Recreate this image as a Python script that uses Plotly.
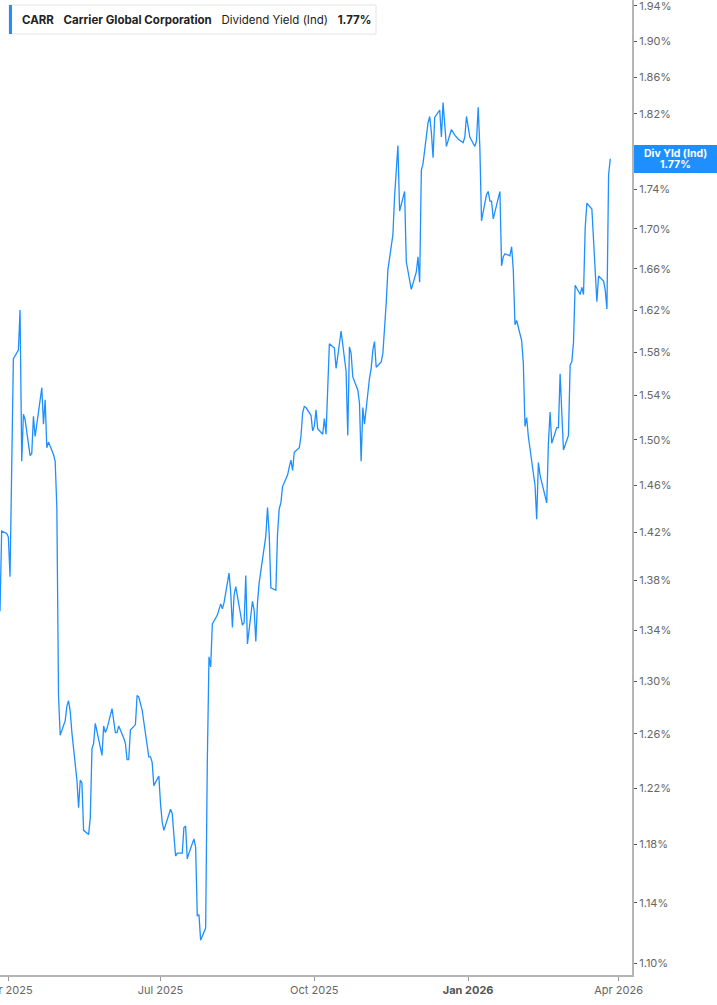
import numpy as np
import pandas as pd
import plotly.graph_objects as go

# CARR dividend yield (ind), %, one value per trading day
yld_apr = [1.355, 1.421, 1.419, 1.416, 1.383, 1.482, 1.574, 1.582, 1.620, 1.481,
           1.523, 1.518, 1.486, 1.488, 1.521, 1.503, 1.547, 1.514, 1.536, 1.493,
           1.498, 1.487, 1.481, 1.441]
yld_may_jul = [1.289, 1.259, 1.270, 1.281, 1.285, 1.277, 1.261, 1.226, 1.206, 1.226,
               1.224, 1.190, 1.187, 1.199, 1.249, 1.253, 1.268, 1.244, 1.266, 1.261,
               1.264, 1.279, 1.270, 1.261, 1.261, 1.266, 1.257, 1.253, 1.241, 1.241,
               1.263, 1.267, 1.289, 1.288, 1.278, 1.253, 1.243, 1.243, 1.239, 1.222,
               1.229, 1.209, 1.196, 1.190, 1.205, 1.202, 1.185, 1.172, 1.174, 1.174,
               1.192, 1.193, 1.170, 1.174, 1.184, 1.178, 1.131, 1.132, 1.115, 1.123,
               1.240, 1.319]
yld_aug_oct = [1.311, 1.345, 1.352, 1.356, 1.361, 1.357, 1.362, 1.386, 1.370, 1.342,
               1.368, 1.375, 1.354, 1.344, 1.346, 1.384, 1.329, 1.363, 1.356, 1.331,
               1.362, 1.378, 1.417, 1.441, 1.419, 1.374, 1.372, 1.419, 1.440, 1.445,
               1.459, 1.469, 1.476, 1.482, 1.473, 1.489, 1.493, 1.503, 1.524, 1.530,
               1.529, 1.522, 1.508, 1.512, 1.527, 1.510, 1.505, 1.519, 1.505]
yld_oct_nov = [1.547, 1.588, 1.584, 1.565, 1.576, 1.588, 1.600, 1.562, 1.504, 1.585,
               1.579, 1.557, 1.545, 1.533, 1.481,
               1.529, 1.514, 1.556, 1.565, 1.582, 1.590, 1.566, 1.571, 1.579, 1.601,
               1.627, 1.659, 1.694, 1.733, 1.760, 1.786]
yld_dec_jan = [1.718, 1.738, 1.667, 1.657, 1.640, 1.657, 1.672, 1.647, 1.760, 1.767,
               1.810, 1.817, 1.800, 1.773, 1.816, 1.824, 1.795, 1.832, 1.802, 1.785,
               1.803, 1.800, 1.797, 1.793, 1.789, 1.795, 1.817, 1.795, 1.785, 1.791,
               1.827, 1.784]
yld_jan_mar = [1.708, 1.735, 1.738, 1.728, 1.728, 1.710, 1.738, 1.663, 1.672, 1.675,
               1.673, 1.682, 1.659, 1.606, 1.610, 1.591, 1.570, 1.512, 1.520, 1.503,
               1.472, 1.460, 1.431, 1.480, 1.469, 1.445, 1.497, 1.525, 1.497, 1.511,
               1.511, 1.560, 1.525, 1.491, 1.504, 1.568, 1.571, 1.589, 1.644, 1.635,
               1.642, 1.635, 1.701, 1.726, 1.720, 1.689, 1.669, 1.628, 1.653, 1.648,
               1.639, 1.621, 1.755, 1.772]

yld = yld_apr + yld_may_jul + yld_aug_oct + yld_oct_nov + yld_dec_jan + yld_jan_mar

# NYSE holidays in the window
holidays = ["2025-04-18", "2025-05-26", "2025-06-19", "2025-07-04", "2025-09-01",
            "2025-11-27", "2025-12-25", "2026-01-01", "2026-01-19", "2026-02-16"]
days = pd.bdate_range("2025-03-20", "2026-03-27", freq="C", holidays=holidays)
dates = days[-len(yld):]

x_tickvals = ["2025-04-01", "2025-07-01", "2025-10-01", "2026-01-01", "2026-04-01"]
x_ticktext = ["Apr 2025", "Jul 2025", "Oct 2025",
              "<span style='color:#555'><b>Jan 2026</b></span>", "Apr 2026"]
y_tickvals = [1.10, 1.14, 1.18, 1.22, 1.26, 1.30, 1.34, 1.38, 1.42, 1.46, 1.50,
              1.54, 1.58, 1.62, 1.66, 1.70, 1.74, 1.78, 1.82, 1.86, 1.90, 1.94]
y_ticktext = ["%.2f%%" % v for v in y_tickvals]

blue = "#1e8fff"
W, H = 632, 975   # plot area in px

fig = go.Figure()
fig.add_trace(go.Scatter(x=dates, y=yld, mode="lines",
                         line=dict(color=blue, width=1.3), hoverinfo="skip"))

fig.update_layout(
    width=717, height=1005,
    margin=dict(l=0, r=85, t=0, b=30, autoexpand=False),
    plot_bgcolor="white", paper_bgcolor="white",
    showlegend=False,
    font=dict(family="Inter", size=11, color="#666"),
)
fig.update_xaxes(
    range=["2025-03-27", "2026-04-09"],
    tickvals=x_tickvals, ticktext=x_ticktext,
    showgrid=False, zeroline=False,
    showline=True, linecolor="#b5b5b5", linewidth=2,
    ticks="outside", ticklen=4, tickcolor="#999", tickwidth=1,
    tickfont=dict(size=11, color="#666"), ticklabeloverflow="allow",
)
fig.update_yaxes(
    type="log", side="right",
    range=[np.log10(1.0922), np.log10(1.9469)],
    tickvals=y_tickvals, ticktext=y_ticktext,
    showgrid=False, zeroline=False,
    showline=True, linecolor="#b5b5b5", linewidth=2,
    ticks="outside", ticklen=3, tickcolor="#555", tickwidth=1,
    tickfont=dict(size=11, color="#666"), ticklabeloverflow="allow",
)

# header box, top-left
fig.add_shape(type="rect", xref="paper", yref="paper",
              x0=9 / W, x1=376 / W, y0=1 - 34 / H, y1=1 - 5 / H,
              fillcolor="white", line=dict(color="#e4e4e4", width=1), layer="above")
fig.add_shape(type="rect", xref="paper", yref="paper",
              x0=9 / W, x1=12 / W, y0=1 - 34 / H, y1=1 - 5 / H,
              fillcolor=blue, line=dict(width=0), layer="above")
fig.add_annotation(
    xref="paper", yref="paper", x=20 / W, y=1 - 19.5 / H,
    xanchor="left", yanchor="middle", showarrow=False, align="left",
    text="<b>CARR</b>   <b>Carrier Global Corporation</b>   Dividend Yield (Ind)   <b>%.2f%%</b>" % yld[-1],
    font=dict(family="Inter", size=11.5, color="#222"),
)

# last value tag on the right axis: blue box + two tight text lines
y_last = np.log10(yld[-1])
fig.add_annotation(
    xref="paper", yref="y", x=634 / W, y=y_last,
    xanchor="left", yanchor="middle", showarrow=False, text=" ",
    bgcolor=blue, borderwidth=0, borderpad=0, width=83, height=28, yshift=-0.5,
)
for txt, dy in [("<b>Div Yld (Ind)</b>", 5), ("<b>%.2f%%</b>" % yld[-1], -6)]:
    fig.add_annotation(
        xref="paper", yref="y", x=675.5 / W, y=y_last,
        xanchor="center", yanchor="middle", showarrow=False, text=txt,
        font=dict(family="Inter", size=10.5, color="white"), yshift=dy,
    )

# drop the browser's default page margin so the chart sits at the window corner
fig.write_html("out.html", config={"displayModeBar": False},
               post_script="document.body.style.margin='0';")
